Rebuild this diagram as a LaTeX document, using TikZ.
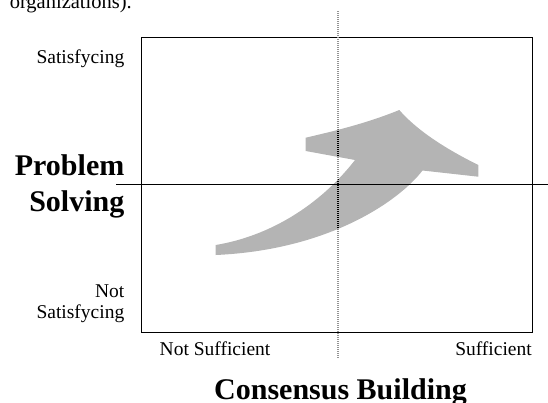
\documentclass[tikz,border=0pt]{standalone}
\usepackage{fontspec}
\setmainfont{Liberation Serif}
\begin{document}
\begin{tikzpicture}[x=1pt,y=-1pt,
  lbl/.style={font=\fontsize{19.5}{22}\selectfont, inner sep=0pt},
  axistitle/.style={font=\fontsize{30}{32}\selectfont\bfseries, inner sep=0pt},
  bodytext/.style={font=\fontsize{20.5}{24}\selectfont, inner sep=0pt},
  midline/.style={line width=1.1pt, dash pattern=on 1pt off 1pt},
]
\useasboundingbox (0,0) rectangle (548,402);
\begin{scope}
\clip (0,0) rectangle (548,402);

% running text above the figure
\node[bodytext, anchor=base east] (caption) at (132,8.5) {organizations).};

% frame of the chart
\draw[line width=0.9pt] (141.7,37.5) rectangle (532,332);

% the shaded arrow
\definecolor{arrowgray}{RGB}{180,180,180}
\def\arrowoutline{(215.7,245)
  .. controls (270,236) and (320,205) .. (355,160)
  -- (305.7,151) -- (305.7,137.7)
  .. controls (330,132) and (365,124) .. (399.3,110)
  .. controls (415,128) and (440,146) .. (478.3,165)
  -- (478.3,176.7) -- (422.5,170.5)
  .. controls (400,200) and (330,250) .. (215.7,255)
  -- cycle}
\path[fill=arrowgray] \arrowoutline;

% axes through the middle
\coordinate (vtop) at (338,11);
\coordinate (vbot) at (338,358);
\draw[midline, gray!85] (vtop) -- (vbot);
\begin{scope}
  \clip \arrowoutline;
  \draw[midline, black] (vtop) -- (vbot);
\end{scope}
\coordinate (hleft) at (116,184.5);
\coordinate (hright) at (548,184.5);
\draw[line width=1.8pt] (hleft) -- (hright);

% vertical axis labels
\node[lbl, anchor=base east] (sat) at (124.5,63.3) {Satisfycing};
\node[axistitle, anchor=base east] (prob) at (124.5,175) {Problem};
\node[axistitle, anchor=base east] (solv) at (124.5,211.5) {Solving};
\node[lbl, anchor=base east] (nott) at (124.5,297.5) {Not};
\node[lbl, anchor=base east] (nsat) at (124.5,318.5) {Satisfycing};

% horizontal axis labels
\node[lbl, anchor=base west] (nsuf) at (159.5,355) {Not Sufficient};
\node[lbl, anchor=base east] (suf) at (532,355) {Sufficient};
\node[axistitle, anchor=base] (cons) at (340.5,399.5) {Consensus Building};
\end{scope}
\end{tikzpicture}
\end{document}
